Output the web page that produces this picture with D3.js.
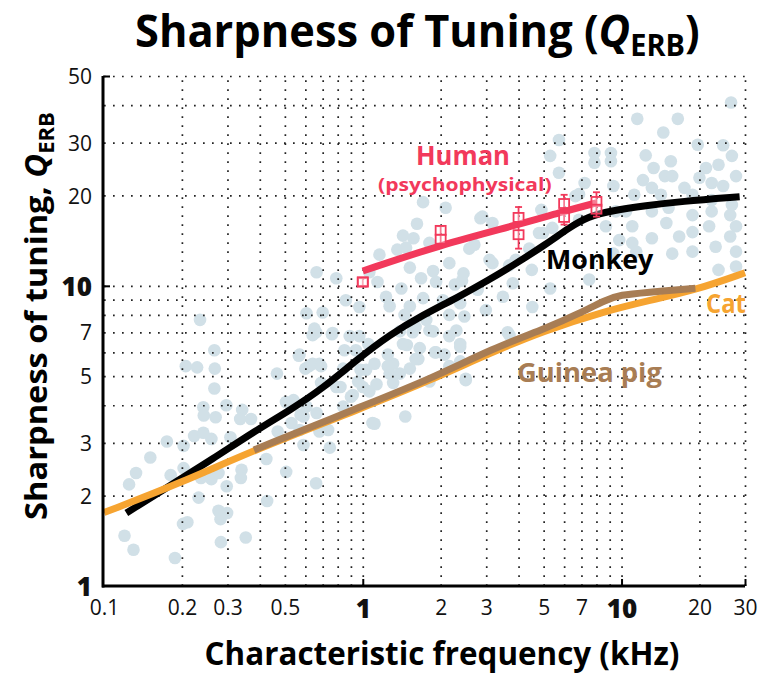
<!DOCTYPE html>
<html><head><meta charset="utf-8">
<script src="https://cdn.jsdelivr.net/npm/d3@7"></script>
<style>body{margin:0;background:#fff}svg{display:block}</style>
</head><body><svg id="c" width="765" height="675"></svg>
<script>
// ---------- DATA ----------
const xTickValues = [0.1, 0.2, 0.3, 0.5, 1, 2, 3, 5, 7, 10, 20, 30];
const yTickValues = [1, 2, 3, 5, 7, 10, 20, 30, 50];
const boldTicks = [1, 10];
const xGridValues = [0.2,0.3,0.4,0.5,0.6,0.7,0.8,0.9,1,2,3,4,5,6,7,8,9,10,20,30];
const yGridValues = [2,3,4,5,6,7,8,9,10,20,30,40,50];
const xMajorTicks = [1, 10, 30];
const yMajorTicks = [10, 50];

// monkey single units: [CF kHz, Q_ERB]
const monkeyUnitPoints = [
[0.235,7.7],[0.267,6.1],[0.207,5.4],[0.229,5.35],[0.268,5.3],[0.466,5.1],[0.566,5.85],[0.267,4.55],[0.242,3.94],[0.243,3.7],[0.27,3.65],[0.297,4.0],[0.342,3.86],[0.336,3.6],[0.37,3.6],[0.505,4.1],[0.175,3.03],[0.203,2.93],[0.223,3.16],[0.242,3.24],[0.26,3.09],[0.308,3.13],[0.151,2.68],[0.133,2.38],[0.125,2.18],[0.181,2.34],[0.203,2.47],[0.237,2.29],[0.26,2.27],[0.277,2.38],[0.298,2.15],[0.34,2.44],[0.338,2.29],[0.424,2.65],[0.506,2.4],[0.469,3.27],[0.232,1.97],[0.427,1.92],[0.277,1.78],[0.299,1.75],[0.282,1.67],[0.202,1.61],[0.21,1.63],[0.12,1.47],[0.13,1.32],[0.283,1.4],[0.353,1.45],[0.188,1.24],[0.575,3.72],[0.66,7.0],[0.765,6.96],[0.6,5.3],[0.64,5.5],[0.68,5.5],[0.746,2.89],[0.66,2.2],[0.59,2.95],[0.53,3.49],[0.59,3.67],[0.68,3.27],[0.84,3.96],[0.82,4.6],[0.915,4.33],[1.09,3.49],[1.46,3.67],[1.0,4.6],[0.98,5.25],[1.11,5.5],[1.27,5.1],[1.31,5.5],[1.52,5.3],[1.64,5.7],[1.48,6.35],[0.89,6.8],[0.97,6.8],[1.56,7.0],
[1.71,19.0],[2.09,18.2],[2.85,16.8],[1.62,16.1],[1.57,14.4],[1.81,13.9],[1.36,13.2],[1.47,13.4],[2.58,13.3],[0.663,11.1],[0.79,10.6],[1.14,10.3],[1.52,11.5],[1.87,11.2],[2.45,11.0],[1.68,10.6],[1.92,10.3],[2.27,10.1],[2.78,9.7],[1.41,9.8],[1.23,9.2],[0.86,8.95],[0.97,8.5],[1.52,8.55],[1.71,9.1],[2.04,8.95],[2.38,8.75],[0.606,8.1],[0.7,8.15],[1.27,8.55],[1.45,8.0],[2.16,8.0],[2.47,7.9],[0.65,7.2],[0.76,6.9],[1.39,7.05],[1.6,7.3],[1.76,7.7],[1.87,7.05],[2.3,7.1],[2.38,6.27],[0.64,6.85],[0.57,5.9],[0.85,6.1],[0.94,6.1],[1.05,6.4],[1.25,5.9],[1.43,6.4],[1.66,6.2],[1.92,6.0],[0.62,5.4],[0.69,5.4],[0.84,5.3],[1.03,5.25],[1.25,5.4],[1.39,5.1],[1.6,5.7],[1.81,4.8],[2.16,5.4],[2.5,4.85],[0.69,4.75],[0.79,4.6],[0.96,4.8],[1.13,4.7],[1.31,4.75],[0.9,4.27],[1.06,4.45],[0.54,4.16],[0.606,3.96],[0.663,3.77],[1.11,3.47],[0.735,3.31],[0.57,3.31],
[26.5,40.8],[11.5,36.0],[16.5,36.0],[14.5,32.4],[5.73,30.6],[19.7,29.5],[24.7,29.4],[7.86,27.7],[9.1,27.7],[5.3,27.1],[12.4,27.2],[15.5,26.0],[23.7,25.3],[26.7,27.1],[7.86,25.7],[9.1,26.0],[13.3,24.7],[21.2,24.7],[5.73,23.8],[14.7,23.2],[15.7,23.2],[20,22.9],[27.7,23.2],[7.2,22.0],[9.3,21.5],[12.1,22.5],[13.1,21.2],[17.5,21.2],[22.3,22.0],[24.7,21.5],[6.63,19.9],[11.2,20.1],[14.2,20.1],[18.8,20.1],[22.3,19.3],[26.7,18.6],[9.5,17.7],[10.4,17.7],[13.1,17.7],[15.2,18.2],[18.8,17.2],[22.3,17.7],[26.3,17.2],[6.85,16.6],[8.7,15.8],[11.0,15.8],[14.9,16.2],[18.8,15.1],[21.8,15.8],[27.7,15.8],[3.17,16.2],[2.9,17.0],[4.8,15.0],[5.4,15.6],[9.8,14.2],[11.0,13.9],[13.1,14.4],[16.7,14.6],[23.1,13.5],[26.3,14.6],[9.3,12.8],[11.4,13.0],[15.7,12.8],[18.8,13.0],[27.7,13.0],[3.09,12.2],[3.68,11.7],[4.4,13.3],[7.5,10.5],[23.7,11.3],[27.7,11.6],[5.3,9.8],[3.8,10.2],[3.48,9.2],[4.52,8.5],[3.63,7.0],[2.99,8.3],
[1.81,7.1],[2.16,6.8],[1.9,6.0],[2.07,5.9],[2.38,6.4],[2.38,5.6],[2.5,4.9],[3.69,6.85],
[4.9,17.9],[4.97,15.0],[6.85,20.2],[1.43,14.7],[3.17,11.9],[3.9,12.2],[4.5,11.3],[2.16,11.9],[2.42,10.4],[1.16,12.7],[1.06,11.1],[2.7,13.7]
];

const monkeyCF = [0.122,0.197,0.256,0.389,0.525,0.70,0.946,1.27,1.71,2.30,3.09,3.81,5.14,6.26,7.4,9.2,12.4,16.9,28.6];
const monkeyQ  = [1.75,2.27,2.61,3.31,3.86,4.55,5.66,6.87,8.0,9.1,10.5,11.7,13.8,15.6,17.0,17.8,18.5,19.1,19.8];

const catCF = [0.1,0.197,0.38,1.0,1.81,3.09,5.0,8.46,12.9,19.5,30];
const catQ  = [1.756,2.2,2.84,3.92,4.83,5.96,7.08,8.19,8.95,9.70,11.05];

const guineaCF = [0.38,1.0,1.81,3.19,5.13,6.9,8.7,9.9,12.4,19.3];
const guineaQ  = [2.84,3.98,4.88,6.2,7.23,8.11,8.98,9.33,9.5,9.82];

const humanCF    = [1, 2, 4, 6, 8];
const humanFitQ  = [11.2, 13.7, 16.0, 17.7, 18.9];
const humanQa    = [10.3, 15.3, 16.9, 18.8, 19.1];
const humanQb    = [10.3, 14.3, 14.8, 16.9, 18.0];
const humanErrLo = [10.0, 13.8, 13.3, 16.0, 17.0];
const humanErrHi = [10.6, 15.8, 18.3, 20.1, 20.5];

// ---------- CHART ----------
const FONT = "'Open Sans', 'Noto Sans', sans-serif";
const C = {human:"#f2395b", cat:"#f6a431", guinea:"#a87d54", monkey:"#000", dot:"#d1e0e7", grid:"#222"};
const svg = d3.select("#c");
const x = d3.scaleLog().domain([0.1, 30]).range([104, 745]);
const y = d3.scaleLog().domain([1, 50]).range([586, 76]);

// scatter
svg.append("g").selectAll("circle").data(monkeyUnitPoints).join("circle")
  .attr("cx", d => x(d[0])).attr("cy", d => y(d[1])).attr("r", 6.3).attr("fill", C.dot);

// dotted grid
const gx = svg.append("g").attr("transform", "translate(0,586)")
  .call(d3.axisBottom(x).tickValues(xGridValues).tickSize(-(586-76)).tickFormat(""));
gx.select(".domain").remove();
gx.selectAll("line").attr("stroke", C.grid).attr("stroke-width", 1.7).attr("stroke-dasharray", "1.7 7.3");
const gy = svg.append("g").attr("transform", "translate(104,0)")
  .call(d3.axisLeft(y).tickValues(yGridValues).tickSize(-(745-104)).tickFormat(""));
gy.select(".domain").remove();
gy.selectAll("line").attr("stroke", C.grid).attr("stroke-width", 1.7).attr("stroke-dasharray", "1.7 7.3");

// lines
const line = (xs, ys, curve) => d3.line().curve(curve)
  .x((d, i) => x(xs[i])).y((d, i) => y(ys[i]))(xs);
svg.append("path").attr("d", line(monkeyCF, monkeyQ, d3.curveBasis)).attr("fill", "none").attr("stroke", C.monkey).attr("stroke-width", 7);
svg.append("path").attr("d", line(catCF, catQ, d3.curveBasis)).attr("fill", "none").attr("stroke", C.cat).attr("stroke-width", 7);
svg.append("path").attr("d", line(guineaCF, guineaQ, d3.curveBasis)).attr("fill", "none").attr("stroke", C.guinea).attr("stroke-width", 7);
svg.append("path").attr("d", line(humanCF, humanFitQ, d3.curveBasis)).attr("fill", "none").attr("stroke", C.human).attr("stroke-width", 7);

// human markers
const hm = svg.append("g").attr("stroke", C.human).attr("stroke-width", 1.8).attr("fill", "none");
humanCF.forEach((f, i) => {
  const cx = x(f);
  hm.append("line").attr("x1", cx).attr("x2", cx).attr("y1", y(humanErrLo[i])).attr("y2", y(humanErrHi[i]));
  [humanErrLo[i], humanErrHi[i]].forEach(v => hm.append("line").attr("x1", cx-3.5).attr("x2", cx+3.5).attr("y1", y(v)).attr("y2", y(v)));
  [humanQa[i], humanQb[i]].forEach(v => hm.append("rect").attr("x", cx-5).attr("y", y(v)-4.5).attr("width", 10).attr("height", 9).attr("fill","rgba(255,255,255,0.35)"));
});

// axes (solid)
const ax = svg.append("g").attr("transform", "translate(0,586)")
  .call(d3.axisBottom(x).tickValues(xMajorTicks).tickSizeInner(-7).tickSizeOuter(0).tickFormat(""));
ax.select(".domain").attr("stroke", "#000").attr("stroke-width", 3).attr("d", "M102,0H745");
ax.selectAll("line").attr("stroke", "#000").attr("stroke-width", 2);
const ay = svg.append("g").attr("transform", "translate(103,0)")
  .call(d3.axisLeft(y).tickValues(yMajorTicks).tickSizeInner(-7).tickSizeOuter(0).tickFormat(""));
ay.select(".domain").attr("stroke", "#000").attr("stroke-width", 3).attr("d", "M0,587.5V76");
ay.selectAll("line").attr("stroke", "#000").attr("stroke-width", 2);

// tick labels
const fmt = d => String(d);
const lx = svg.append("g").attr("transform", "translate(0,586)")
  .call(d3.axisBottom(x).tickValues(xTickValues).tickSize(0).tickFormat(fmt));
lx.select(".domain").remove();
lx.selectAll("text").attr("y", 14).attr("dy", "0.71em").attr("fill", "#111")
  .style("font-family", FONT)
  .style("font-size", d => boldTicks.includes(d) ? "26px" : "21px")
  .style("font-weight", d => boldTicks.includes(d) ? 800 : 400);
const ly = svg.append("g").attr("transform", "translate(103,0)")
  .call(d3.axisLeft(y).tickValues(yTickValues).tickSize(0).tickFormat(fmt));
ly.select(".domain").remove();
ly.selectAll("text").attr("x", -11).attr("dy", "0.36em").attr("fill", "#111")
  .style("font-family", FONT)
  .style("font-size", d => boldTicks.includes(d) ? "26px" : "21px")
  .style("font-weight", d => boldTicks.includes(d) ? 800 : 400);

// helper: scale text horizontally to a target width
function fit(t, width, tf) {
  const w = t.node().getBBox().width;
  t.attr("transform", tf + ` scale(${width / w},1)`);
}
function label(str, size, color, left, base, width) {
  const t = svg.append("text").attr("x", 0).attr("y", 0)
    .style("font-family", FONT).style("font-weight", 700).style("font-size", size + "px")
    .attr("fill", color).text(str);
  fit(t, width, `translate(${left},${base})`);
  return t;
}

// title
const title = svg.append("text").attr("x", 0).attr("y", 0)
  .style("font-family", FONT).style("font-weight", 700).style("font-size", "45px").attr("fill", "#000");
title.append("tspan").text("Sharpness of Tuning (");
title.append("tspan").style("font-style", "italic").text("Q");
title.append("tspan").style("font-size", "30px").attr("dy", 9).text("ERB");
title.append("tspan").attr("dy", -9).text(")");
fit(title, 565, "translate(135,47)");

// y label
const yl = svg.append("text").attr("x", 0).attr("y", 0).attr("text-anchor", "middle")
  .style("font-family", FONT).style("font-weight", 700).style("font-size", "31px").attr("fill", "#000");
yl.append("tspan").text("Sharpness of tuning, ");
yl.append("tspan").style("font-style", "italic").text("Q");
yl.append("tspan").style("font-size", "21px").attr("dy", 7).text("ERB");
fit(yl, 408, "translate(47,316) rotate(-90)");

// x label
const xl = svg.append("text").attr("x", 0).attr("y", 0).attr("text-anchor", "middle")
  .style("font-family", FONT).style("font-weight", 700).style("font-size", "32px").attr("fill", "#000")
  .text("Characteristic frequency (kHz)");
fit(xl, 475, "translate(442,665)");

// series labels
label("Human", 26, C.human, 416, 165, 94);
label("(psychophysical)", 17, C.human, 378, 191, 174);
label("Monkey", 27, "#000", 546, 269, 108);
label("Cat", 27, C.cat, 706, 313, 40);
label("Guinea pig", 27, C.guinea, 517, 382, 145);
</script>
</body></html>
